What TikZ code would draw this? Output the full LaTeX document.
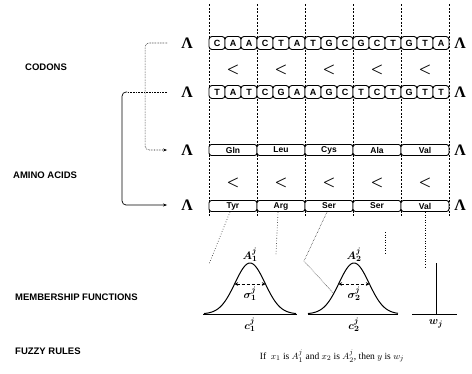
\documentclass[tikz,border=0pt]{standalone}
\usepackage{fontspec}
\setmainfont{Liberation Serif}
\setsansfont{Liberation Sans}
\usetikzlibrary{arrows.meta,calc}
\begin{document}
\begin{tikzpicture}[x=1pt,y=-1pt,
  lab/.style={font=\sffamily\bfseries\fontsize{9.5}{12}\selectfont, anchor=west, inner sep=0pt},
  lam/.style={font=\bfseries\fontsize{16}{16}\selectfont, inner sep=0pt},
  lt/.style={font=\boldmath\fontsize{15}{15}\selectfont, inner sep=0pt},
  base/.style={draw, line width=0.9pt, rounded corners=3pt, fill=white, minimum width=16pt, minimum height=13pt, inner sep=0pt, font=\sffamily\bfseries\fontsize{9}{9}\selectfont},
  amino/.style={draw, line width=0.9pt, rounded corners=2.5pt, fill=white, minimum width=48pt, minimum height=11pt, inner sep=0pt, font=\sffamily\bfseries\fontsize{8.5}{9}\selectfont},
  gridline/.style={line width=0.5pt, dash pattern=on 2pt off 1.5pt},
  mf/.style={line width=1pt},
  dl/.style={line width=0.6pt, dotted},
  mlab/.style={font=\boldmath\fontsize{11}{12}\selectfont, inner sep=0pt}
]
\useasboundingbox (0,0) rectangle (472,373);

% vertical dashed grid
\foreach \x in {209,257,305,353,401,449}
  \draw[gridline] (\x,4) -- (\x,217);

% left labels
\node[lab] (lcod) at (25,67) {CODONS};
\node[lab] (lami) at (13,175) {AMINO ACIDS};
\node[lab] (lmem) at (15,297) {MEMBERSHIP FUNCTIONS};
\node[lab] (lfuz) at (15,351) {FUZZY RULES};

% Lambda symbols
\node[lam] (L1) at (187,43) {Λ};
\node[lam] (L2) at (187,92) {Λ};
\node[lam] (L3) at (187,150) {Λ};
\node[lam] (L4) at (187,205) {Λ};
\node[lam] (R1) at (460,43) {Λ};
\node[lam] (R2) at (460,92) {Λ};
\node[lam] (R3) at (460,150) {Λ};
\node[lam] (R4) at (460,205) {Λ};

% codons
\foreach \l [count=\i] in {C,A,A,C,T,A,T,G,C,G,C,T,G,T,A}
  \node[base] (c1-\i) at ({201+16*\i},43) {\l};
\foreach \l [count=\i] in {T,A,T,C,G,A,A,G,C,T,C,T,G,T,T}
  \node[base] (c2-\i) at ({201+16*\i},92) {\l};

% less-than rows
\foreach \i in {1,...,5} {
  \node[lt] (lt1-\i) at ({185+48*\i},70) {$<$};
  \node[lt] (lt2-\i) at ({185+48*\i},183) {$<$};
}

% amino acids
\foreach \n [count=\i] in {Gln,Leu,Cys,Ala,Val}
  \node[amino] (a1-\i) at ({185+48*\i},150) {\n};
\foreach \n [count=\i] in {Tyr,Arg,Ser,Ser,Val}
  \node[amino] (a2-\i) at ({185+48*\i},206) {\n};

% bracket connectors
\draw[line width=0.6pt, densely dotted, rounded corners=4pt, -{Stealth[length=4pt,width=3pt]}]
  ([xshift=-14pt]L1.west) -- ++(-22,0) |- ([xshift=-14pt]L3.west);
\coordinate (k2) at ([xshift=-14pt]L2.west);
\draw[line width=0.6pt, densely dotted] (k2) -- ++(-40,0);
\draw[line width=0.7pt, rounded corners=4pt, -{Stealth[length=4pt,width=3pt]}]
  ([xshift=-40pt]k2) -- ++(-5,0) |- ([xshift=-14pt]L4.west);

% membership function 1
\draw[mf] (203,314) -- (297,314);
\draw[mf] plot[domain=-46:46, samples=90] ({250+\x},{314-51*exp(-\x*\x/450)});
\draw[line width=0.7pt, densely dashed, {Stealth[length=3.5pt,width=3.5pt]}-{Stealth[length=3.5pt,width=3.5pt]}] (234.5,284) -- (265.5,284);
\node[mlab] (A1) at (250,255) {$A_1^j$};
\node[mlab] (s1) at (250,294) {$\sigma_1^j$};
\node[mlab] (c1) at (250,325) {$c_1^j$};

% membership function 2
\draw[mf] (308,314) -- (398,314);
\draw[mf] plot[domain=-46:44, samples=90] ({354+\x},{314-51*exp(-\x*\x/450)});
\draw[line width=0.7pt, densely dashed, {Stealth[length=3.5pt,width=3.5pt]}-{Stealth[length=3.5pt,width=3.5pt]}] (338.5,284) -- (369.5,284);
\node[mlab] (A2) at (354,255) {$A_2^j$};
\node[mlab] (s2) at (354,294) {$\sigma_2^j$};
\node[mlab] (c2) at (354,325) {$c_2^j$};

% singleton
\draw[mf] (412,314) -- (457,314);
\draw[mf] (436,314) -- (436,263);
\node[mlab] (w) at (436,324) {$w_j$};

% dotted links from amino acids to membership functions
\coordinate (t1) at (209,264);
\coordinate (t2) at (276,255);
\coordinate (t3a) at (304,261);
\coordinate (t3) at (333,293);
\coordinate (t4a) at (385,232);
\coordinate (t4) at (385,253);
\coordinate (t5) at (425,268);
\draw[dl] ([xshift=-3pt]a2-1.south) -- (t1);
\draw[dl] ([xshift=-3pt]a2-2.south) -- (t2);
\draw[line width=0.5pt, densely dotted] ([xshift=-2pt]a2-3.south) -- (t3a) -- (t3);
\draw[dl] (t4a) -- (t4);
\draw[dl] (a2-5.south) -- (t5);

% fuzzy rule
\node[font=\fontsize{9.5}{11}\selectfont, inner sep=0pt] (rule) at (332,356)
  {If\ \ $x_1$ is $A_1^j$ and $x_2$ is $A_2^j$, then $y$ is $w_j$};
\end{tikzpicture}
\end{document}
